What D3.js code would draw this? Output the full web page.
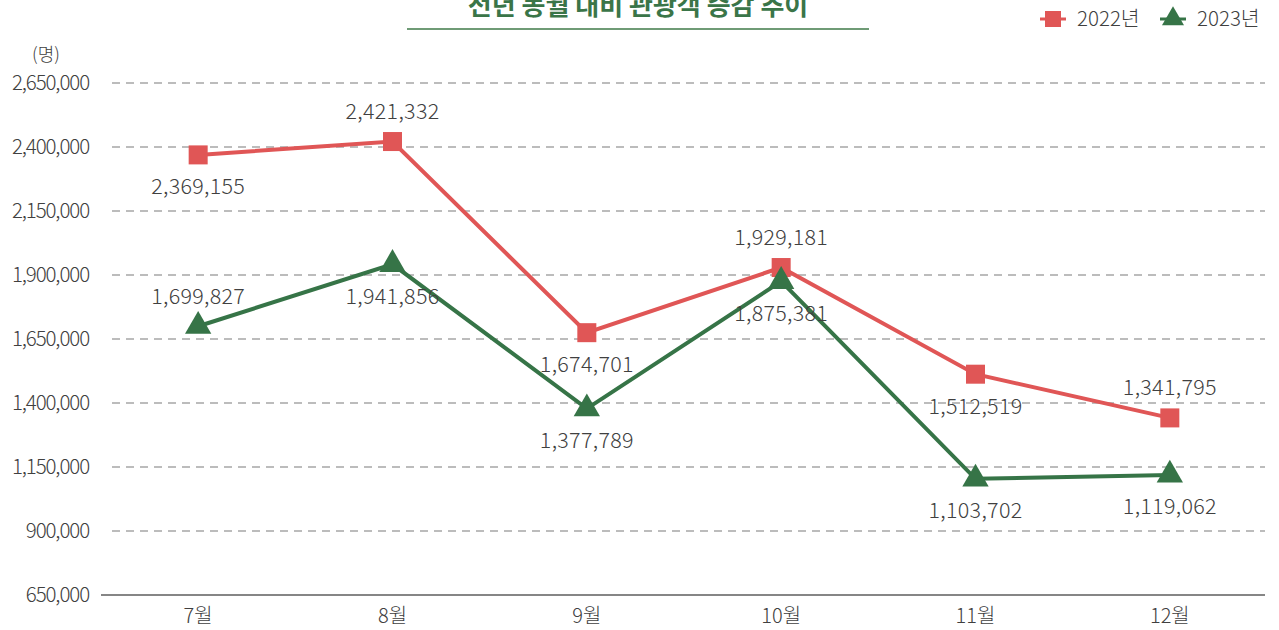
<!DOCTYPE html>
<html><head><meta charset="utf-8">
<script src="https://cdn.jsdelivr.net/npm/d3@7"></script>
<style>
body{margin:0;background:#fff;}
svg{display:block;font-family:"Noto Sans CJK KR","Noto Sans",sans-serif;}
.lt{font-weight:300;font-family:"Noto Sans CJK KR","Noto Sans",sans-serif;}
</style></head>
<body><svg id="c" width="1279" height="630"></svg>
<script>
const months = ["7월","8월","9월","10월","11월","12월"];
const values2022 = [2369155, 2421332, 1674701, 1929181, 1512519, 1341795];
const values2023 = [1699827, 1941856, 1377789, 1875381, 1103702, 1119062];
const yTicks = [650000, 900000, 1150000, 1400000, 1650000, 1900000, 2150000, 2400000, 2650000];
const seriesNames = ["2022년","2023년"];
const titleText = "전년 동월 대비 관광객 증감 추이";
const unitText = "(명)";
const labelSide2022 = ["below","above","below","above","below","above"];
const labelSide2023 = ["above","below","below","below","below","below"];

const RED = "#e05656", GREEN = "#367447", TXT = "#404040";
const FONT = '"Noto Sans CJK KR","Noto Sans",sans-serif';
const svg = d3.select("#c");
const x = d3.scaleBand().domain(months).range([101, 1267]);
const y = d3.scaleLinear().domain([650000, 2650000]).range([595, 83]);
const cx = m => x(m) + x.bandwidth()/2;
const fmt = d3.format(",");

// title
svg.append("text").attr("x", 638).attr("y", 15).attr("text-anchor","middle")
  .attr("font-size", 26).attr("font-weight", 700).attr("fill", "#3a7548").text(titleText);
svg.append("line").attr("x1",407).attr("x2",869).attr("y1",29).attr("y2",29)
  .attr("stroke","#6f9b76").attr("stroke-width",2);

// grid
const grid = svg.append("g");
grid.selectAll("line").data(yTicks.filter(t => t > 650000)).join("line")
  .attr("x1", 112).attr("x2", 1265).attr("y1", d => y(d)).attr("y2", d => y(d))
  .attr("stroke", "#a6a6a6").attr("stroke-width", 1.3).attr("stroke-dasharray", "8,6");

// y axis labels
const yAxis = d3.axisLeft(y).tickValues(yTicks).tickFormat(fmt).tickSize(0).tickPadding(0);
const ya = svg.append("g").attr("transform","translate(89,0)").call(yAxis)
  .attr("font-family", FONT).attr("font-size", null);
ya.select(".domain").remove();
ya.selectAll("text").attr("class","lt").attr("font-size", 20.5).attr("fill", TXT).attr("letter-spacing","-1.1px");
svg.append("text").attr("class","lt").attr("x", 46).attr("y", 61).attr("text-anchor","middle")
  .attr("font-size", 18).attr("fill", TXT).text(unitText);

// x axis
const xAxis = d3.axisBottom(x).tickSize(0).tickPadding(12);
const xa = svg.append("g").attr("transform","translate(0,595)").call(xAxis)
  .attr("font-family", FONT).attr("font-size", null);
xa.select(".domain").attr("stroke","#868686").attr("stroke-width",2).attr("d","M101,0H1265");
xa.selectAll("text").attr("class","lt").attr("font-size", 20).attr("fill", TXT).attr("dy","0.8em");

// lines
const line = d3.line().x((d,i) => cx(months[i])).y(d => y(d));
svg.append("path").datum(values2022).attr("d", line).attr("fill","none").attr("stroke",RED).attr("stroke-width",4);
svg.append("path").datum(values2023).attr("d", line).attr("fill","none").attr("stroke",GREEN).attr("stroke-width",4);

const sq = 19;
svg.append("g").selectAll("rect").data(values2022).join("rect")
  .attr("x",(d,i)=>cx(months[i])-sq/2).attr("y",d=>y(d)-sq/2).attr("width",sq).attr("height",sq).attr("fill",RED);
const tri = d3.symbol().type(d3.symbolTriangle).size(300);
svg.append("g").selectAll("path").data(values2023).join("path")
  .attr("transform",(d,i)=>`translate(${cx(months[i])},${y(d)})`).attr("d",tri).attr("fill",GREEN);

// data labels
function labels(vals, sides){
  svg.append("g").selectAll("text").data(vals).join("text")
    .attr("class","lt")
    .attr("x",(d,i)=>cx(months[i])).attr("y",(d,i)=> y(d) + (sides[i]==="below" ? 32 : -30))
    .attr("dy","0.35em").attr("text-anchor","middle").attr("font-size",21.5).attr("fill",TXT)
    .attr("letter-spacing","0.3px").text(d=>fmt(d));
}
labels(values2022, labelSide2022);
labels(values2023, labelSide2023);

// legend
const lg = svg.append("g");
lg.append("line").attr("x1",1040).attr("x2",1066).attr("y1",19).attr("y2",19).attr("stroke",RED).attr("stroke-width",3);
lg.append("rect").attr("x",1045).attr("y",11).attr("width",16).attr("height",16).attr("fill",RED);
lg.append("text").attr("class","lt").attr("x",1077).attr("y",19).attr("dy","0.35em").attr("font-size",20.5).attr("fill",TXT).text(seriesNames[0]);
lg.append("line").attr("x1",1160).attr("x2",1186).attr("y1",19).attr("y2",19).attr("stroke",GREEN).attr("stroke-width",3);
lg.append("path").attr("transform","translate(1173,19)").attr("d",d3.symbol().type(d3.symbolTriangle).size(210)()).attr("fill",GREEN);
lg.append("text").attr("class","lt").attr("x",1197).attr("y",19).attr("dy","0.35em").attr("font-size",20.5).attr("fill",TXT).text(seriesNames[1]);
</script></body></html>
